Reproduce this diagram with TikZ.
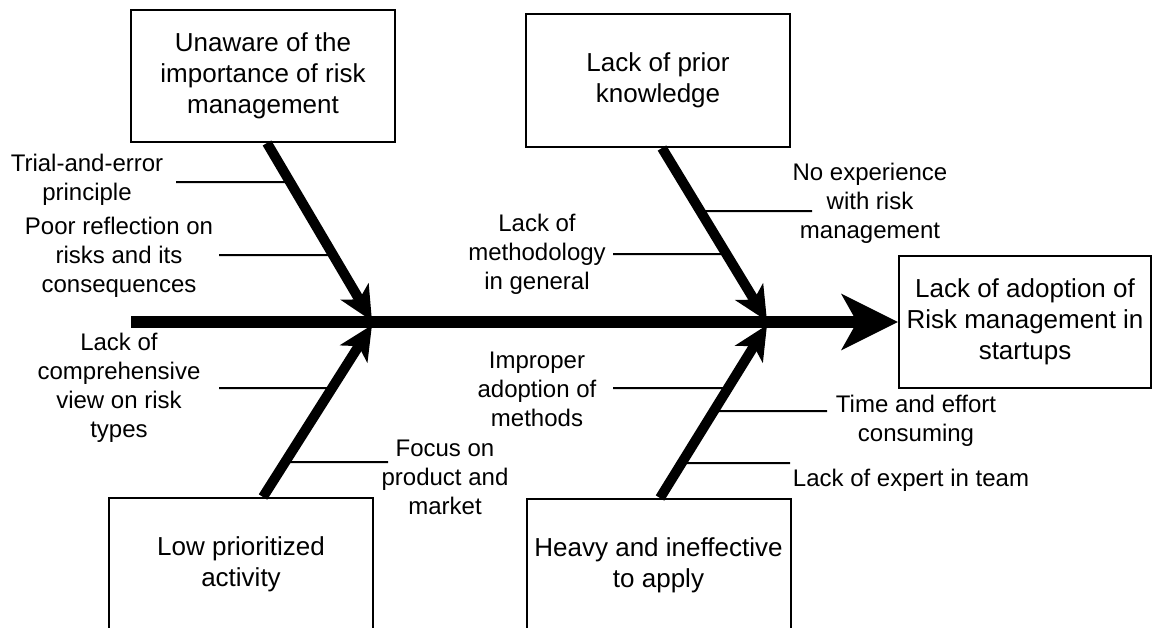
\documentclass[tikz,border=0pt]{standalone}
\usepackage{fontspec}
\setmainfont{Liberation Sans}
\usetikzlibrary{arrows.meta}
\tikzset{
  causebox/.style={draw, line width=2pt, align=center, inner sep=0pt,
    minimum width=264pt, minimum height=132pt,
    font=\fontsize{26}{31}\selectfont},
  sublabel/.style={align=center, inner sep=0pt, font=\fontsize{24}{29}\selectfont},
  spine/.style={line width=12pt, -{Stealth[length=56pt,width=55pt,inset=15pt]}},
  bone/.style={line width=10pt, -{Stealth[length=34pt,width=32pt,inset=9pt]}},
  rib/.style={line width=2pt},
}
\begin{document}
\begin{tikzpicture}[x=1pt,y=-1pt]
\path[use as bounding box, clip] (0,0) rectangle (1153,627);

% effect and cause boxes
\node[causebox, minimum width=252pt] (effect) at (1025,322)
  {Lack of adoption of\\Risk management in\\startups};
\node[causebox] (unaware) at (263,76)
  {Unaware of the\\importance of risk\\management};
\node[causebox, minimum height=133pt] (prior) at (658,80.5)
  {Lack of prior\\knowledge};
\node[causebox] (lowprio) at (241,564)
  {Low prioritized\\activity};
\node[causebox] (heavy) at (658.5,565)
  {Heavy and ineffective\\to apply};

% spine
\coordinate (head) at (131,322);
\draw[spine] (head) -- (effect.west);

% main bones
\coordinate (s1) at ([xshift=4pt]unaware.south);
\coordinate (t1) at (372,321);
\coordinate (s2) at ([xshift=4pt]prior.south);
\coordinate (t2) at (767,321);
\coordinate (s3) at ([xshift=22pt]lowprio.north);
\coordinate (t3) at (372,325);
\coordinate (s4) at ([xshift=1.5pt]heavy.north);
\coordinate (t4) at (767,325);
\draw[bone] (s1) -- (t1);
\draw[bone] (s2) -- (t2);
\draw[bone] (s3) -- (t3);
\draw[bone] (s4) -- (t4);

% sub-cause labels
\node[sublabel] (trial) at (87,180) {Trial-and-error\\principle};
\node[sublabel] (poor) at (119,257) {Poor reflection on\\risks and its\\consequences};
\node[sublabel] (method) at (537,254) {Lack of\\methodology\\in general};
\node[sublabel] (noexp) at (870,203) {No experience\\with risk\\management};
\node[sublabel] (compr) at (119,388) {Lack of\\comprehensive\\view on risk\\types};
\node[sublabel] (focus) at (445,477) {Focus on\\product and\\market};
\node[sublabel] (improper) at (537,389) {Improper\\adoption of\\methods};
\node[sublabel] (timeeff) at (916,421) {Time and effort\\consuming};
\node[sublabel] (expert) at (911,480) {Lack of expert in team};

% rib ends
\coordinate (r1) at (176,182);
\coordinate (r2) at (219,255);
\coordinate (r3) at (613,254);
\coordinate (r4) at (812,211);
\coordinate (r5) at (219,388);
\coordinate (r6) at (388,462);
\coordinate (r7) at (613,388);
\coordinate (r8) at (827,411);
\coordinate (r9) at (790,463);

% ribs meeting the bones
\draw[rib] (r1) -- (intersection of s1--t1 and 0,182--1000,182);
\draw[rib] (r2) -- (intersection of s1--t1 and 0,255--1000,255);
\draw[rib] (r3) -- (intersection of s2--t2 and 0,254--1000,254);
\draw[rib] (intersection of s2--t2 and 0,211--1000,211) -- (r4);
\draw[rib] (r5) -- (intersection of s3--t3 and 0,388--1000,388);
\draw[rib] (intersection of s3--t3 and 0,462--1000,462) -- (r6);
\draw[rib] (r7) -- (intersection of s4--t4 and 0,388--1000,388);
\draw[rib] (intersection of s4--t4 and 0,411--1000,411) -- (r8);
\draw[rib] (intersection of s4--t4 and 0,463--1000,463) -- (r9);
\end{tikzpicture}
\end{document}
